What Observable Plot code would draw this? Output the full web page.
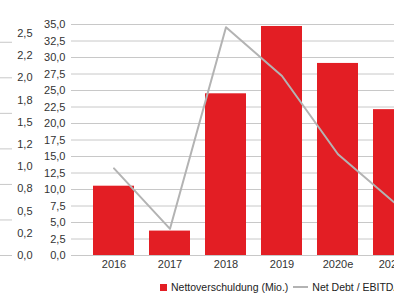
<!DOCTYPE html>
<html>
<head>
<meta charset="utf-8">
<script src="https://cdn.jsdelivr.net/npm/d3@7"></script>
<script src="https://cdn.jsdelivr.net/npm/@observablehq/plot@0.6"></script>
<style>
  html, body { margin: 0; padding: 0; background: #fff; width: 394px; height: 293px; overflow: hidden; }
  #wrap { position: relative; width: 394px; height: 293px; overflow: hidden; }
  #chart { position: absolute; left: 0; top: 0; width: 440px; }
  #chart svg { max-width: none !important; width: 440px; height: 276px; }
  #legend { position: absolute; top: 280px; left: 160px; white-space: nowrap; font: 10.5px "Liberation Sans", Arial, sans-serif; color: #222; line-height: 14px; }
  .sw { display: inline-block; width: 7px; height: 7px; background: #e31e24; margin-right: 4px; vertical-align: 0px; }
  .ln { display: inline-block; width: 15px; height: 2px; background: #b3b3b3; margin: 0 4px 0 5px; vertical-align: 3px; }
</style>
</head>
<body>
<div id="wrap">
  <div id="chart"></div>
  <div id="legend"><span class="sw"></span>Nettoverschuldung (Mio.)<span class="ln"></span>Net Debt / EBITDA</div>
</div>
<script>
const categories = ["2016", "2017", "2018", "2019", "2020e", "2021e"];
const netDebt = [10.5, 3.7, 24.5, 34.7, 29.1, 22.1];
const debtRatio = [0.98, 0.30, 2.57, 2.02, 1.14, 0.60];
const rightTicks = [0, 2.5, 5, 7.5, 10, 12.5, 15, 17.5, 20, 22.5, 25, 27.5, 30, 32.5, 35];
const leftTickValues = [0, 0.25, 0.5, 0.75, 1, 1.25, 1.5, 1.75, 2, 2.25, 2.5];
const leftTickLabels = ["0,0", "0,2", "0,5", "0,8", "1,0", "1,2", "1,5", "1,8", "2,0", "2,2", "2,5"];
const leftGridRemnant = [0, 0.4, 0.8, 1.2, 1.6, 2.0, 2.4];
const rightMax = 35;
const leftMax = 2.6;

const k = rightMax / leftMax;
const bars = categories.map((c, i) => ({cat: c, v: netDebt[i]}));
const lineData = categories.map((c, i) => ({cat: c, r: debtRatio[i]}));
const leftData = leftTickValues.map((v, i) => ({v, label: leftTickLabels[i]}));

const chart = Plot.plot({
  width: 440,
  height: 276,
  marginTop: 24,
  marginBottom: 21,
  marginLeft: 71,
  marginRight: 0,
  style: {fontSize: "11px", fontFamily: "'Liberation Sans', Arial, sans-serif", color: "#333", background: "transparent", maxWidth: "none"},
  x: {domain: categories, range: [77, 430], padding: 0.27, label: null},
  y: {domain: [0, rightMax], label: null},
  marks: [
    Plot.ruleY(rightTicks, {stroke: "#c8c8c8", strokeWidth: 1}),
    Plot.barY(bars, {x: "cat", y: "v", fill: "#e31e24"}),
    Plot.line(lineData, {x: "cat", y: d => d.r * k, stroke: "#b3b3b3", strokeWidth: 2}),
    Plot.axisY(rightTicks, {anchor: "left", tickSize: 0, tickPadding: 6, tickFormat: d => d.toFixed(1).replace(".", ","), label: null}),
    Plot.text(leftData, {y: d => d.v * k, text: "label", frameAnchor: "left", dx: -39, textAnchor: "end", fill: "#333"}),
    Plot.axisY(leftGridRemnant.map(v => v * k), {anchor: "left", tickSize: 12, tickFormat: () => "", dx: -59, stroke: "#c8c8c8", label: null}),
    Plot.axisX({tickSize: 0, tickPadding: 5, label: null})
  ]
});
document.getElementById("chart").appendChild(chart);
</script>
</body>
</html>
